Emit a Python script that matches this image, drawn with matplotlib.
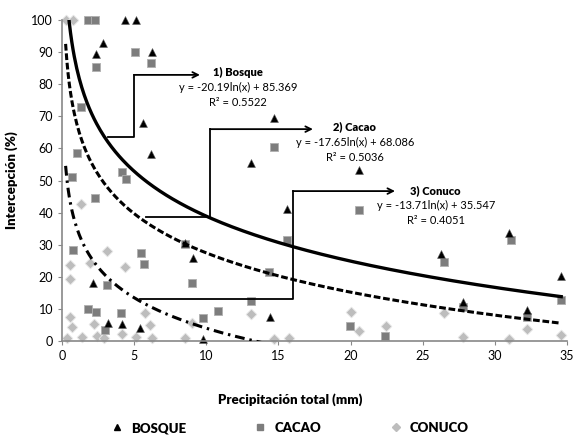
import numpy as np
import matplotlib
matplotlib.use("Agg")
import matplotlib.pyplot as plt
from matplotlib.lines import Line2D

plt.rcParams['font.family'] = ['Lato', 'DejaVu Sans']

# data (precipitation mm, interception %)
bosque_x = [4.4, 5.1, 2.85, 2.35, 6.25, 5.6, 6.15, 14.7, 13.1, 15.6, 20.6, 8.5, 9.1,
            14.4, 9.75, 2.15, 3.2, 4.15, 5.4, 31.0, 34.6, 32.2, 27.8, 26.3]
bosque_y = [100, 100, 92.8, 89.4, 90, 68, 58.3, 69.5, 55.5, 41, 53.3, 30.5, 26,
            7.5, 0.5, 18, 5.6, 5.3, 4, 33.6, 20.3, 9.7, 12, 27]

cacao_x = [1.8, 2.3, 2.36, 5.06, 6.2, 1.3, 1.04, 0.7, 4.15, 4.43, 2.3, 0.76, 5.47,
           5.7, 3.1, 1.8, 2.36, 4.1, 3.0, 8.5, 9.0, 15.6, 14.35, 13.1, 10.8, 9.8,
           14.7, 20.6, 19.96, 22.4, 26.5, 31.1, 27.8, 32.2, 34.6]
cacao_y = [100, 100, 85.4, 90, 86.6, 73, 58.6, 51.1, 52.6, 50.4, 44.5, 28.3, 27.4,
           24, 17.4, 10, 9, 8.7, 3.5, 30.2, 18, 31.5, 21.5, 12.5, 9.3, 7.2,
           60.5, 40.8, 4.7, 1.6, 24.6, 31.5, 10.6, 7.5, 12.8]

conuco_x = [0.25, 0.75, 1.3, 3.1, 0.55, 1.94, 4.37, 0.55, 0.55, 0.7, 2.2, 5.75, 6.1,
            0.35, 1.4, 2.4, 2.9, 4.15, 5.1, 6.24, 8.5, 9.0, 13.1, 14.7, 15.7,
            20.0, 20.6, 22.45, 26.5, 27.8, 31.0, 32.2, 34.6]
conuco_y = [100, 100, 42.7, 28, 23.7, 24.3, 23, 19.3, 7.5, 4.4, 5.3, 8.7, 5,
            1, 1.2, 1.5, 1.0, 2.2, 1.2, 1, 1, 5.6, 8.4, 0.6, 1,
            9, 3.1, 4.7, 8.7, 1.2, 0.6, 3.7, 1.9]

# logarithmic trend lines y = a*ln(x) + b
fits = {
    'Bosque': (-20.19, 85.369, 0.5522),
    'Cacao': (-17.65, 68.086, 0.5036),
    'Conuco': (-13.71, 35.547, 0.4051),
}

fig = plt.figure(figsize=(5.78, 4.38), dpi=100)
ax = fig.add_axes([62/578, 97/438, 505/578, 321/438])

xs = np.linspace(0.25, 34.6, 400)
styles = {'Bosque': dict(ls='-', lw=2.4), 'Cacao': dict(ls=(0, (2.2, 0.9)), lw=2.2),
          'Conuco': dict(ls=(0, (3.2, 1.6, 0.8, 1.6)), lw=2.2)}
for name, (a, b, r2) in fits.items():
    ax.plot(xs, a*np.log(xs) + b, color='black', **styles[name], zorder=3)

ax.scatter(conuco_x, conuco_y, marker='D', s=30, color='#bdbdbd',
           edgecolors='#e8e8e8', linewidths=0.6, clip_on=False, zorder=2)
ax.scatter(cacao_x, cacao_y, marker='s', s=40, color='#7d7d7d',
           edgecolors='#b0b0b0', linewidths=0.6, clip_on=False, zorder=2)
ax.scatter(bosque_x, bosque_y, marker='^', s=32, color='black',
           edgecolors='#555555', linewidths=0.4, clip_on=False, zorder=2)

# connector lines and labels
conn = {
    'Bosque': ([3.19, 4.99, 4.99], [63.5, 63.5, 82.9], 9.56, 12.2, 83.8),
    'Cacao': ([5.82, 10.26, 10.26], [38.6, 38.6, 66.0], 17.39, 20.3, 66.7),
    'Conuco': ([5.41, 16.0, 16.0], [13.1, 13.1, 46.7], 23.08, 25.9, 47.0),
}
for i, (name, (cx, cy, xend, tx, ty)) in enumerate(conn.items()):
    a, b, r2 = fits[name]
    ax.plot(cx, cy, color='black', lw=1.3, clip_on=False, zorder=4)
    ax.annotate('', xy=(xend, cy[-1]), xytext=(cx[-1], cy[-1]),
                arrowprops=dict(arrowstyle='->', lw=1.3, color='black',
                                shrinkA=0, shrinkB=0), zorder=4)
    ax.text(tx, ty, f'{i+1}) {name}', ha='center', va='center',
            fontsize=8, fontweight='heavy')
    ax.text(tx, ty - 4.7, f'y = {a}ln(x) + {b}', ha='center', va='center',
            fontsize=8)
    ax.text(tx, ty - 9.4, f'R² = {r2:.4f}', ha='center', va='center',
            fontsize=8)

ax.set_xlim(0, 35)
ax.set_ylim(0, 100)
ax.set_xticks(range(0, 36, 5))
ax.set_yticks(range(0, 101, 10))
ax.tick_params(labelsize=9, color='#888888', length=3, width=0.8)
for s in ['top', 'right']:
    ax.spines[s].set_visible(False)
for s in ['left', 'bottom']:
    ax.spines[s].set_color('#888888')
    ax.spines[s].set_linewidth(1.2)

ax.set_xlabel('Precipitación total (mm)', fontsize=9.5, fontweight='heavy')
ax.set_ylabel('Intercepción (%)', fontsize=9.5, fontweight='heavy')
ax.xaxis.set_label_coords(0.451, -0.162)
ax.yaxis.set_label_coords(-0.087, 0.5)

handles = [
    Line2D([], [], marker='^', ls='', color='black', markersize=5),
    Line2D([], [], marker='s', ls='', color='#7d7d7d', markersize=5),
    Line2D([], [], marker='D', ls='', color='#bdbdbd', markersize=4.5),
]
leg = fig.legend(handles, ['BOSQUE', 'CACAO', 'CONUCO'], loc='center',
                 bbox_to_anchor=(0.5, 10/438), ncol=3, frameon=False,
                 prop=dict(size=9.5, weight='heavy'), columnspacing=5.0,
                 handletextpad=0.5, handlelength=1.2)

fig.savefig('out.png', dpi=100)
